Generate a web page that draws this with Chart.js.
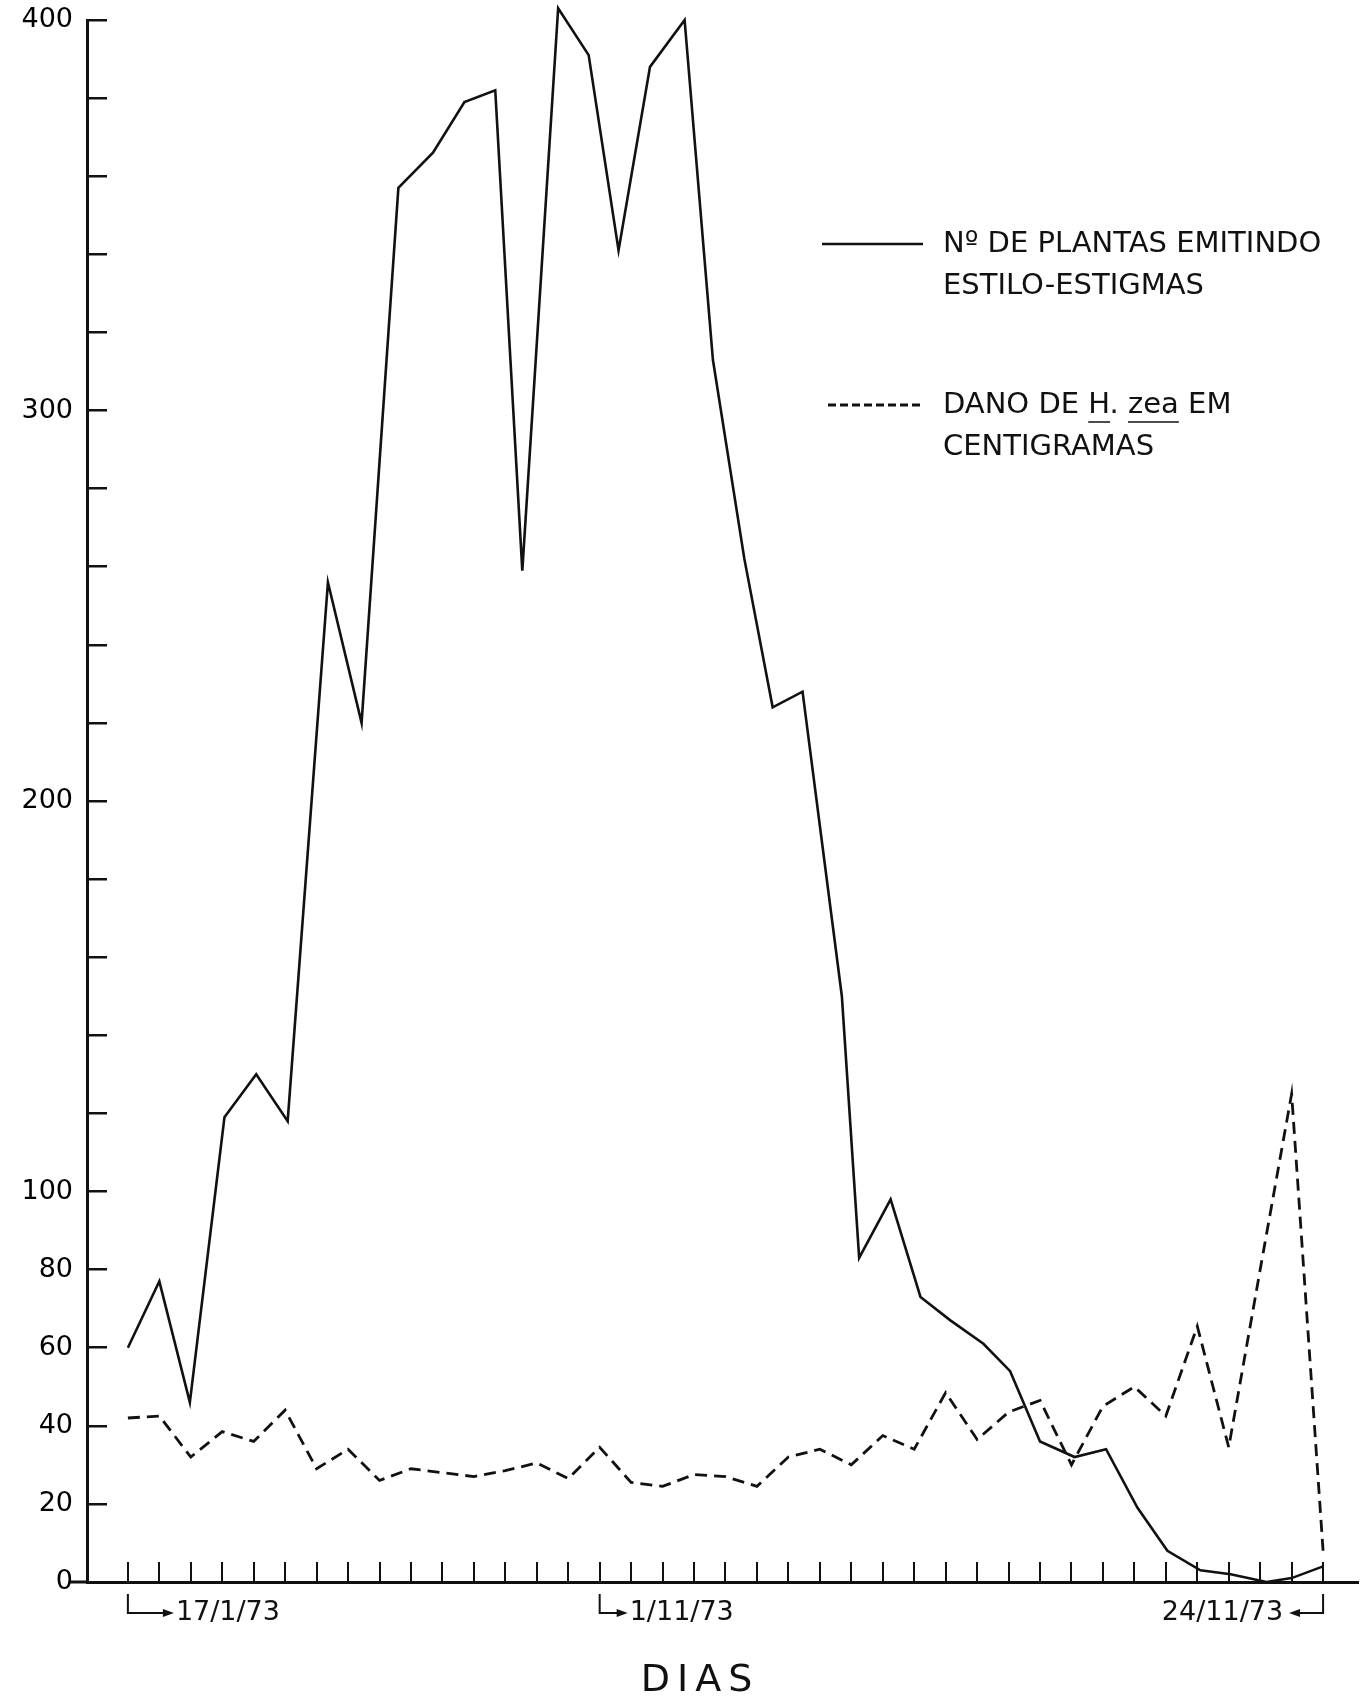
<!DOCTYPE html>
<html>
<head>
<meta charset="utf-8">
<title>Plantas emitindo estilo-estigmas x dano de H. zea</title>
<script src="https://cdn.jsdelivr.net/npm/chart.js@4.4.1/dist/chart.umd.min.js"></script>
<style>
  html, body { margin: 0; padding: 0; background: #fff; }
</style>
</head>
<body>
<canvas id="myChart" width="1362" height="1703"></canvas>
<script>
// dias de leitura, 17/10 a 24/11/73
var dias = ["17/10", "18/10", "19/10", "20/10", "21/10", "22/10", "23/10", "24/10", "25/10", "26/10",
            "27/10", "28/10", "29/10", "30/10", "31/10", "1/11", "2/11", "3/11", "4/11", "5/11",
            "6/11", "7/11", "8/11", "9/11", "10/11", "11/11", "12/11", "13/11", "14/11", "15/11",
            "16/11", "17/11", "18/11", "19/11", "20/11", "21/11", "22/11", "23/11", "24/11"];

// Nº de plantas emitindo estilo-estigmas
var plantas = [60, 77, 46, 119, 130, 118, 256, 220, 357, 366,
               379, 382, 259, 403, 391, 341, 388, 400, 313, 262,
               224, 228, 150, 83, 98, 73, 67, 61, 54, 36,
               32, 34, 19, 8, 3, 2, 0, 1, 4];

// posicao de cada ponto da curva cheia no eixo dos dias, como foi desenhada a mao
// (no meio do periodo o traco corre um pouco a direita das marcas)
var plantasDia = [0, 1, 1.97, 3.07, 4.08, 5.08, 6.36, 7.43, 8.6, 9.7,
                  10.7, 11.68, 12.54, 13.68, 14.65, 15.6, 16.6, 17.7, 18.6, 19.6,
                  20.5, 21.45, 22.7, 23.25, 24.25, 25.2, 26.15, 27.2, 28.05, 29,
                  30.1, 31.1, 32.1, 33.05, 34.1, 35.06, 36.2, 37, 38];

// dano de H. zea em centigramas
var dano = [42, 42.5, 32, 38.5, 36, 44, 29, 34, 26, 29,
            28, 27, 28.5, 30.5, 26.5, 34.5, 25.5, 24.5, 27.5, 27,
            24.5, 32, 34, 30, 37.5, 34, 48.5, 36.5, 43.5, 46.5,
            30, 45, 50, 42.5, 65.5, 34.5, 80, 125, 8];

// rotulos do eixo
var yLabels = [0, 20, 40, 60, 80, 100, 200, 300, 400];
var rotuloDia = ["17/10", "1/11", "24/11"];
var rotuloTexto = ["17/1/73", "1/11/73", "24/11/73"];
var legendaLinhas = [["Nº DE PLANTAS EMITINDO", "ESTILO-ESTIGMAS"],
                     ["DANO DE H. zea EM", "CENTIGRAMAS"]];

var FONT = '"DejaVu Sans", sans-serif';
var INK = '#111';

function toPoints(arr, xs) {
    return arr.map(function(v, i) { return {x: xs ? xs[i] : i, y: v}; });
}

///////////////// legenda, datas e titulo ///////////////////////
var extras = {
    id: 'extras',
    afterDraw: function(chart, args, opts) {
        var c = chart.ctx;
        var xs = chart.scales.x;
        var ys = chart.scales.y;
        var area = chart.chartArea;
        c.save();
        c.strokeStyle = INK;
        c.fillStyle = INK;

        // eixo x passa um pouco a esquerda do eixo y
        c.lineWidth = 3;
        c.beginPath();
        c.moveTo(area.left - 17, ys.getPixelForValue(0));
        c.lineTo(area.left, ys.getPixelForValue(0));
        c.stroke();

        // datas com setas
        c.font = '27px ' + FONT;
        c.textBaseline = 'middle';
        var y0 = area.bottom + 12;
        var yl = area.bottom + 31;
        for (var k = 0; k < rotuloDia.length; k++) {
            var px = xs.getPixelForValue(dias.indexOf(rotuloDia[k]));
            var len = opts.setas[k];
            c.lineWidth = 2;
            c.beginPath();
            c.moveTo(px, y0);
            c.lineTo(px, yl);
            if (k < rotuloDia.length - 1) {
                c.lineTo(px + len - 8, yl);
                c.stroke();
                c.beginPath();
                c.moveTo(px + len - 11, yl - 4);
                c.lineTo(px + len, yl);
                c.lineTo(px + len - 11, yl + 4);
                c.fill();
                c.textAlign = 'left';
                c.fillText(rotuloTexto[k], px + len + 2, yl);
            } else {
                c.lineTo(px - len + 8, yl);
                c.stroke();
                c.beginPath();
                c.moveTo(px - len + 11, yl - 4);
                c.lineTo(px - len, yl);
                c.lineTo(px - len + 11, yl + 4);
                c.fill();
                c.textAlign = 'right';
                c.fillText(rotuloTexto[k], px - len - 6, yl);
            }
        }

        // DIAS
        c.font = '38px ' + FONT;
        c.textAlign = 'center';
        if ('letterSpacing' in c) c.letterSpacing = '7px';
        c.fillText('DIAS', 700, 1681);
        if ('letterSpacing' in c) c.letterSpacing = '0px';

        // legenda
        c.font = '29px ' + FONT;
        c.textAlign = 'left';
        var lx = 822, tx = 943;
        var ly = [244, 405];
        chart.data.datasets.forEach(function(ds, i) {
            c.lineWidth = ds.borderWidth;
            c.setLineDash(i === 0 ? [] : [8, 4]);
            c.beginPath();
            c.moveTo(lx + (i === 0 ? 0 : 6), ly[i]);
            c.lineTo(923, ly[i]);
            c.stroke();
            c.setLineDash([]);
            c.fillText(legendaLinhas[i][0], tx, ly[i]);
            c.fillText(legendaLinhas[i][1], tx, ly[i] + 42);
        });
        // H. zea sublinhado
        var aH = c.measureText("DANO DE ").width;
        var wH = c.measureText("H").width;
        var aZ = c.measureText("DANO DE H. ").width;
        var wZ = c.measureText("zea").width;
        c.lineWidth = 1.5;
        c.beginPath();
        c.moveTo(tx + aH, ly[1] + 17);
        c.lineTo(tx + aH + wH, ly[1] + 17);
        c.moveTo(tx + aZ, ly[1] + 17);
        c.lineTo(tx + aZ + wZ, ly[1] + 17);
        c.stroke();
        c.restore();
    }
};

var ctx = document.getElementById("myChart");
var myChart = new Chart(ctx, {
    type: 'line',
    data: {
        datasets: [{
            label: legendaLinhas[0].join(' '),
            data: toPoints(plantas, plantasDia),
            borderColor: INK,
            borderWidth: 2.6,
            pointRadius: 0,
            tension: 0,
            clip: false
        }, {
            label: legendaLinhas[1].join(' '),
            data: toPoints(dano),
            borderColor: INK,
            borderWidth: 2.8,
            borderDash: [12, 7],
            pointRadius: 0,
            tension: 0,
            clip: false
        }]
    },
    options: {
        responsive: false,
        animation: false,
        devicePixelRatio: 1,
        layout: { padding: { top: 20, right: 4, bottom: 0, left: 0 } },
        plugins: {
            legend: { display: false },
            tooltip: { enabled: false },
            extras: { setas: [46, 28, 34] }
        },
        scales: {
            x: {
                type: 'linear',
                min: -1.3,
                max: 39.11,
                afterBuildTicks: function(scale) {
                    scale.ticks = dias.map(function(d, i) { return {value: i}; });
                },
                afterFit: function(scale) { scale.height = 121; },
                ticks: { display: false, autoSkip: false },
                grid: { drawOnChartArea: false, tickLength: -20, color: INK, lineWidth: 2 },
                border: { color: INK, width: 3 }
            },
            y: {
                min: 0,
                max: 400,
                afterFit: function(scale) {
                    scale.width = 87;
                    // o padding dos rotulos nao deve empurrar a area do grafico
                    scale.paddingTop = 0;
                    scale.paddingBottom = 0;
                },
                ticks: {
                    stepSize: 20,
                    autoSkip: false,
                    padding: 34,
                    color: '#000',
                    font: { family: FONT, size: 27 },
                    callback: function(v) { return yLabels.indexOf(v) >= 0 ? v : ''; }
                },
                grid: { drawOnChartArea: false, tickLength: -20, color: INK, lineWidth: 2.5 },
                border: { color: INK, width: 3 }
            }
        }
    },
    plugins: [extras]
});
</script>
</body>
</html>
